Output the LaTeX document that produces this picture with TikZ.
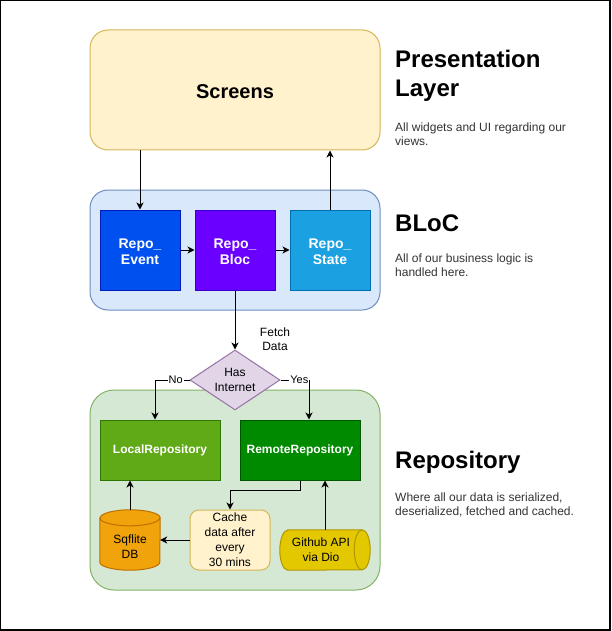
\documentclass[tikz,border=0pt]{standalone}
\usepackage{fontspec}
\setmainfont{Liberation Sans}
\usetikzlibrary{arrows.meta,shapes.geometric,calc}
\definecolor{yelfill}{HTML}{FFF2CC}
\definecolor{yeldraw}{HTML}{D6B656}
\definecolor{bluefill}{HTML}{DAE8FC}
\definecolor{bluedraw}{HTML}{6C8EBF}
\definecolor{greenfill}{HTML}{D5E8D4}
\definecolor{greendraw}{HTML}{82B366}
\definecolor{eventfill}{HTML}{0050EF}
\definecolor{eventdraw}{HTML}{001DBC}
\definecolor{blocfill}{HTML}{6A00FF}
\definecolor{blocdraw}{HTML}{3700CC}
\definecolor{statefill}{HTML}{1BA1E2}
\definecolor{statedraw}{HTML}{006EAF}
\definecolor{purfill}{HTML}{E1D5E7}
\definecolor{purdraw}{HTML}{9673A6}
\definecolor{localfill}{HTML}{60A917}
\definecolor{localdraw}{HTML}{2D7600}
\definecolor{remotefill}{HTML}{008A00}
\definecolor{remotedraw}{HTML}{005700}
\definecolor{sqfill}{HTML}{F0A30A}
\definecolor{sqdraw}{HTML}{BD7000}
\definecolor{ghfill}{HTML}{E3C800}
\definecolor{ghdraw}{HTML}{B09500}
\tikzset{
  arr/.style={line width=1pt,-{Stealth[length=7pt,width=7pt,inset=2pt]}},
  layerbox/.style={draw,line width=1pt,rounded corners=18pt,minimum width=290pt,inner sep=0pt},
  repobox/.style={draw,line width=1pt,minimum width=80pt,minimum height=80pt,inner sep=0pt,
    text=white,align=center,font=\fontsize{14}{16}\selectfont\bfseries},
  storebox/.style={draw,line width=1pt,minimum width=120pt,minimum height=60pt,inner sep=0pt,
    text=white,font=\fontsize{12}{14}\selectfont\bfseries},
  cylbox/.style={inner sep=0pt},
  smalltext/.style={inner sep=0pt,align=center,font=\fontsize{12}{15}\selectfont},
  edgetext/.style={inner sep=1pt,fill=white,font=\fontsize{11}{13}\selectfont},
  titletext/.style={anchor=west,inner sep=0pt,align=left,font=\fontsize{24}{29}\selectfont\bfseries},
  desctext/.style={anchor=west,inner sep=0pt,align=left,text=black!80,font=\fontsize{12}{14}\selectfont}
}
\begin{document}
\begin{tikzpicture}[x=1pt,y=1pt]
        \useasboundingbox (0,0) rectangle (612,-631);
        \draw[line width=1.2pt] (0.6,-0.6) rectangle (610,-630);
        %Presentation Layer
        \node[layerbox,fill=yelfill,draw=yeldraw,minimum height=120pt,text height=18pt,text depth=0pt,font=\fontsize{20}{24}\selectfont\bfseries] (screens) at (235,-90) {Screens};
        %BLoC Layer
        \node[layerbox,fill=bluefill,draw=bluedraw,minimum height=120pt] (blocbg) at (235,-250) {};
        \node[repobox,fill=eventfill,draw=eventdraw] (event) at (140,-250) {\rule{0pt}{14pt}Repo\_\\Event};
        \node[repobox,fill=blocfill,draw=blocdraw] (bloc) at (235,-250) {\rule{0pt}{14pt}Repo\_\\Bloc};
        \node[repobox,fill=statefill,draw=statedraw] (state) at (330,-250) {\rule{0pt}{14pt}Repo\_\\State};
        %Repository Layer
        \node[layerbox,fill=greenfill,draw=greendraw,minimum height=200pt,rounded corners=24pt] (repobg) at (235,-490) {};
        \node[storebox,fill=localfill,draw=localdraw] (local) at (160,-450) {LocalRepository};
        \node[storebox,fill=remotefill,draw=remotedraw] (remote) at (300,-450) {RemoteRepository};
        \node[smalltext,draw=yeldraw,fill=yelfill,line width=1pt,rounded corners=9pt,minimum width=80pt,minimum height=60pt] (cache) at (230,-540) {Cache\\data after\\every\\30 mins};
        % Sqflite cylinder
        \node[cylbox,minimum width=60pt,minimum height=60pt] (sq) at (130,-540) {};
        \filldraw[fill=sqfill,draw=sqdraw,line width=1pt] ($(sq.north west)+(0,-8)$) -- ($(sq.south west)+(0,8)$)
          arc[start angle=180,end angle=360,x radius=30pt,y radius=8pt] -- ($(sq.north east)+(0,-8)$)
          arc[start angle=0,end angle=180,x radius=30pt,y radius=8pt] -- cycle;
        \draw[draw=sqdraw,line width=1pt] ($(sq.north west)+(0,-8)$) arc[start angle=180,end angle=360,x radius=30pt,y radius=8pt];
        \node[smalltext] (sqlabel) at (130,-547) {Sqflite\\DB};
        % Github cylinder
        \node[cylbox,minimum width=90pt,minimum height=40pt] (gh) at (325,-550) {};
        \filldraw[fill=ghfill,draw=ghdraw,line width=1pt] ($(gh.north west)+(8,0)$) -- ($(gh.north east)+(-8,0)$)
          arc[start angle=90,end angle=-90,x radius=8pt,y radius=20pt] -- ($(gh.south west)+(8,0)$)
          arc[start angle=270,end angle=90,x radius=8pt,y radius=20pt] -- cycle;
        \draw[draw=ghdraw,line width=1pt] ($(gh.north east)+(-8,0)$) arc[start angle=90,end angle=270,x radius=8pt,y radius=20pt];
        \node[smalltext] (ghlabel) at (321,-550) {Github API\\via Dio};
        % Decision
        \node[diamond,draw=purdraw,fill=purfill,line width=1pt,minimum width=90pt,minimum height=60pt,inner sep=0pt,aspect=1.5,smalltext] (internet) at (235,-380) {Has\\Internet};
        % Connectors
        \draw[arr] (screens.south -| event.north) -- (event.north);
        \draw[arr] (state.north) -- (state.north |- screens.south);
        \draw[arr] (event) -- (bloc);
        \draw[arr] (bloc) -- (state);
        \draw[arr] (bloc.south) -- node[pos=0.83,xshift=40pt,edgetext,fill=none,align=center,font=\fontsize{12}{14}\selectfont] (fetchlabel) {Fetch\\Data} (internet.north);
        \draw[arr] (internet.west) -| node[pos=0.2,edgetext] (nolabel) {No} ([xshift=-5pt]local.north);
        \draw[arr] (internet.east) -| node[pos=0.33,edgetext] (yeslabel) {Yes} ([xshift=9pt]remote.north);
        \draw[arr] (remote.south) -- ++(0,-10) -| (cache.north);
        \draw[arr] (cache.west) -- (sq.east);
        \draw[arr] (sq.north) -- (sq.north |- local.south);
        \draw[arr] (gh.north) -- (gh.north |- remote.south);
        % Layer texts
        \node[titletext] (pltitle) at (395,-76) {Presentation\\Layer};
        \node[desctext] (pldesc) at (395,-134) {All widgets and UI regarding our\\views.};
        \node[titletext] (bltitle) at (395,-223) {BLoC};
        \node[desctext] (bldesc) at (395,-265) {All of our business logic is\\handled here.};
        \node[titletext] (rptitle) at (395,-462) {Repository};
        \node[desctext] (rpdesc) at (395,-505) {Where all our data is serialized,\\deserialized, fetched and cached.};
\end{tikzpicture}
\end{document}
